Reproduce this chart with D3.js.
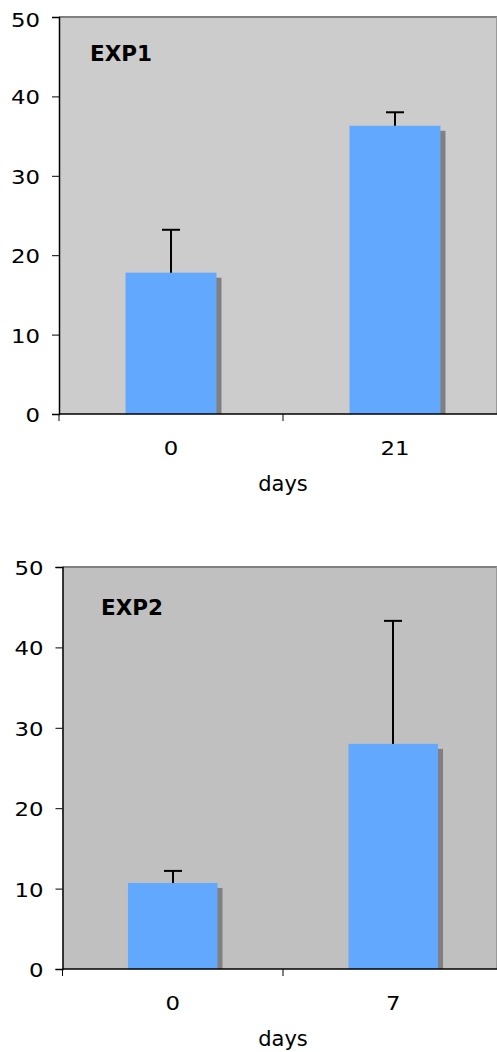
<!DOCTYPE html>
<html>
<head>
<meta charset="utf-8">
<script src="https://cdn.jsdelivr.net/npm/d3@7"></script>
<style>
  html, body { margin: 0; padding: 0; background: #ffffff; }
  svg { display: block; }
  text { font-family: "DejaVu Sans", Verdana, sans-serif; fill: #000; }
</style>
</head>
<body>
<script>
// Experiment 1: days 0 and 21
const exp1Days = ["0", "21"];
const exp1Means = [17.8, 36.3];
const exp1Errors = [5.4, 1.7];

// Experiment 2: days 0 and 7
const exp2Days = ["0", "7"];
const exp2Means = [10.7, 28.0];
const exp2Errors = [1.5, 15.3];

const yTicks = [0, 10, 20, 30, 40, 50];
const yMax = 50;

const W = 497, H = 1052;
const TICK_FS = 19, TICK_SX = 1.2;     // wide, Verdana-like numerals
const TITLE_FS = 21;
const LABEL_FS = 20.5, LABEL_SX = 1.05;

const svg = d3.select("body").append("svg")
  .attr("width", W).attr("height", H);

// text placed with its anchor at (x, y) and stretched horizontally
function stretchedText(sel, x, y, sx) {
  return sel.attr("transform", `translate(${x},${y}) scale(${sx},1)`);
}

function drawPanel(cfg) {
  const { title, days, means, errors, left, top, bottom, step, bg } = cfg;
  const g = svg.append("g");

  const y = d3.scaleLinear().domain([0, yMax]).range([bottom, top]);
  const x = d3.scaleBand()
    .domain(days)
    .range([left, left + step * days.length])
    .paddingInner(0.594)
    .paddingOuter(0.297);
  const gap = (x.step() - x.bandwidth()) / 2;

  // plot area
  g.append("rect")
    .attr("x", left).attr("y", top)
    .attr("width", x.range()[1] - left).attr("height", bottom - top)
    .attr("fill", bg);
  // frame: top and right edges
  g.append("line")
    .attr("x1", left).attr("x2", W)
    .attr("y1", top).attr("y2", top)
    .attr("stroke", "#808080").attr("stroke-width", 2);
  g.append("line")
    .attr("x1", W - 0.5).attr("x2", W - 0.5)
    .attr("y1", top).attr("y2", bottom)
    .attr("stroke", "#9a9a9a").attr("stroke-width", 1);

  // bar shadows
  g.selectAll(".shadow").data(days).join("rect")
    .attr("x", d => x(d) + 5)
    .attr("y", (d, i) => y(means[i]) + 5)
    .attr("width", x.bandwidth())
    .attr("height", (d, i) => bottom - y(means[i]) - 5)
    .attr("fill", "#808080");
  // bars
  g.selectAll(".bar").data(days).join("rect")
    .attr("x", d => x(d))
    .attr("y", (d, i) => y(means[i]))
    .attr("width", x.bandwidth())
    .attr("height", (d, i) => bottom - y(means[i]))
    .attr("fill", "#63a8ff");

  // error bars (upper only)
  days.forEach((d, i) => {
    const cx = Math.round(x(d) + x.bandwidth() / 2);
    const y0 = y(means[i]);
    const y1 = y(means[i] + errors[i]);
    g.append("line")
      .attr("x1", cx).attr("x2", cx)
      .attr("y1", y0).attr("y2", y1)
      .attr("stroke", "#000").attr("stroke-width", 2);
    g.append("line")
      .attr("x1", cx - 9).attr("x2", cx + 9)
      .attr("y1", y1).attr("y2", y1)
      .attr("stroke", "#000").attr("stroke-width", 2);
  });

  // y axis
  const yAxis = d3.axisLeft(y).tickValues(yTicks).tickSize(7).tickFormat("");
  const ya = g.append("g").attr("transform", `translate(${left},0)`).call(yAxis);
  ya.select(".domain").attr("stroke", "#000").attr("stroke-width", 1.5);
  ya.selectAll(".tick line").attr("stroke", "#000");
  g.selectAll(".ylab").data(yTicks).join("text")
    .attr("text-anchor", "end")
    .attr("font-size", TICK_FS)
    .each(function (v) {
      const cy = Math.max(y(v) + 1, 20);
      stretchedText(d3.select(this), left - 19, cy + 0.365 * TICK_FS, TICK_SX);
    })
    .text(d => d);

  // x axis: ticks at category boundaries, labels at category centers
  const xa = g.append("g").attr("transform", `translate(0,${bottom})`);
  xa.append("line")
    .attr("x1", left).attr("x2", W)
    .attr("stroke", "#000").attr("stroke-width", 1.5);
  const bounds = days.map(d => x(d) - gap);
  xa.selectAll(".xt").data(bounds).join("line")
    .attr("x1", d => d).attr("x2", d => d)
    .attr("y1", 0).attr("y2", 7)
    .attr("stroke", "#000");
  xa.selectAll(".xl").data(days).join("text")
    .attr("text-anchor", "middle")
    .attr("font-size", TICK_FS)
    .each(function (d) {
      stretchedText(d3.select(this), x(d) + x.bandwidth() / 2,
        34 + 0.365 * TICK_FS, TICK_SX);
    })
    .text(d => d);

  // axis title
  g.append("text")
    .attr("x", x.range()[0] + x.step())
    .attr("y", bottom + 71.5 + 0.26 * TITLE_FS)
    .attr("text-anchor", "middle")
    .attr("font-size", TITLE_FS)
    .text("days");

  // panel label
  stretchedText(g.append("text"), cfg.titleX, cfg.titleY, LABEL_SX)
    .attr("font-size", LABEL_FS)
    .attr("font-weight", "bold")
    .text(title);
}

drawPanel({
  title: "EXP1", days: exp1Days, means: exp1Means, errors: exp1Errors,
  left: 59, top: 17, bottom: 414, step: 224, bg: "#cccccc",
  titleX: 90, titleY: 61
});

drawPanel({
  title: "EXP2", days: exp2Days, means: exp2Means, errors: exp2Errors,
  left: 62.5, top: 567, bottom: 969, step: 220.5, bg: "#c0c0c0",
  titleX: 101, titleY: 615
});
</script>
</body>
</html>
